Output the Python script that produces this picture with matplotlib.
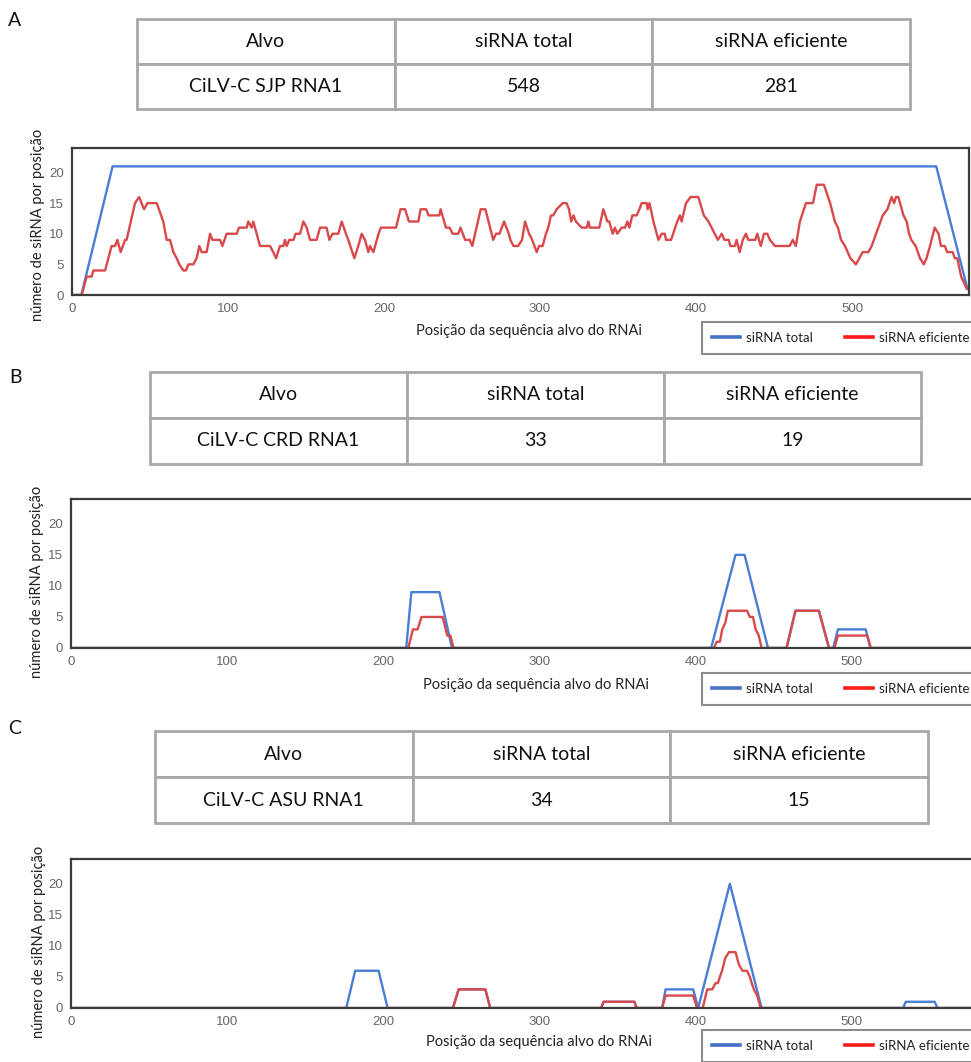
import matplotlib
matplotlib.use("Agg")
import matplotlib.pyplot as plt
from matplotlib.lines import Line2D

W, H = 971, 1062

# textos e valores das tabelas
paineis = ["A", "B", "C"]
cabecalho = ["Alvo", "siRNA total", "siRNA eficiente"]
alvos = ["CiLV-C SJP RNA1", "CiLV-C CRD RNA1", "CiLV-C ASU RNA1"]
n_total = [548, 33, 34]
n_eficiente = [281, 19, 15]
legendas = ["siRNA total", "siRNA eficiente"]
xlabel = "Posição da sequência alvo do RNAi"
ylabel = "número de siRNA por posição"
xticks = [0, 100, 200, 300, 400, 500]
yticks = [0, 5, 10, 15, 20]

# painel A (CiLV-C SJP RNA1)
a_total_x = [0, 6, 26, 554, 574]
a_total_y = [0, 0, 21, 21, 1]
a_efic_x = [0, 6.2, 9.4, 12.6, 13.7, 21.2, 25.4, 27.6, 29.1, 31.2, 34, 35, 40.4, 43, 46.2, 48.3,
            54.3, 58.5, 60.7, 62.8, 65, 67.1, 68.8, 71.4, 73, 74.6, 77.8, 79.9, 81.6, 83.1, 86.3,
            88.5, 90, 94.9, 96.4, 99.1, 105.6, 107, 112, 113, 115.2, 116.2, 118.4, 120.5, 127,
            129, 130.8, 133.3, 135.5, 136.5, 137.6, 139.3, 141.9, 143.4, 146.2, 148.3, 150.4,
            152.6, 156.8, 159, 163.2, 165, 167, 170.7, 172.9, 175.6, 177.1, 181, 183.5, 185.7,
            187.8, 190, 191, 193.2, 196.5, 198, 207.7, 210.6, 213.5, 216, 222, 223.5, 227, 228.5,
            235.5, 236.3, 239.7, 242, 244, 247.6, 249, 252, 255, 256.6, 262, 265, 270, 271.8, 274,
            277, 280, 281, 283, 286, 288.5, 290.4, 293, 295, 297.9, 299.4, 301.7, 303.8, 305.3,
            307, 308.5, 310.7, 314.5, 317, 318.6, 320, 321.5, 323, 326.7, 330, 331, 332, 338,
            340.6, 343.2, 344.4, 346.6, 348, 349.6, 352.3, 354.5, 356, 357.3, 359.2, 362, 363.7,
            365.2, 368.4, 369, 370.2, 372.7, 375.9, 378, 380, 380.8, 384, 388, 389.7, 390.8,
            393.6, 396.6, 401.5, 405, 408, 410, 412, 414, 416.5, 418.2, 421, 422, 425, 426, 428,
            430, 432, 433.5, 438, 439.3, 441.5, 443.6, 445.7, 447.4, 450.6, 460, 462, 464, 466.6,
            470.5, 475, 477.4, 482, 486, 489, 491, 493, 495.5, 499, 502.5, 504.7, 506.8, 510.5,
            512.6, 516.9, 519.7, 522.7, 525.4, 527, 528.2, 529.7, 533, 535, 536.6, 538, 540.8,
            543.6, 546, 547.8, 550, 553, 555.5, 557, 559.5, 561, 564.5, 566, 567.5, 570, 573.6]
a_efic_y = [0, 0, 3, 3, 4, 4, 8, 8, 9, 7, 9, 9, 15, 16, 14, 15,
            15, 12, 9, 9, 7, 6, 5, 4, 4, 5, 5, 6, 8, 7, 7,
            10, 9, 9, 8, 10, 10, 11, 11, 12, 11, 12, 10, 8, 8,
            7, 6, 8, 8, 9, 8, 9, 9, 10, 10, 12, 11,
            9, 9, 11, 11, 9, 10, 10, 12, 10, 9, 6, 8, 10,
            9, 7, 8, 7, 10, 11, 11, 14, 14, 12, 12, 14, 14, 13,
            13, 14, 11, 11, 10, 10, 11, 9, 9, 8, 14, 14, 9, 10, 10,
            12, 10, 9, 8, 8, 9, 12, 10, 9, 7, 8, 8, 10, 11,
            13, 13, 14, 15, 15, 14, 12, 13, 12, 11, 11, 12, 11, 11,
            14, 12, 12, 10, 11, 10, 11, 11, 12, 11, 13, 13, 14,
            15, 15, 14, 15, 12, 9, 10, 10, 9, 9, 12, 13, 12,
            15, 16, 16, 13, 12, 11, 10, 9, 10, 9, 9, 8, 8, 9, 7,
            9, 10, 9, 9, 10, 8, 10, 10, 9, 8, 8, 9, 8, 12,
            15, 15, 18, 18, 15, 12, 11, 9, 8, 6, 5, 6, 7, 7,
            8, 11, 13, 14, 16, 15, 16, 16, 13, 12, 10, 9, 8,
            6, 5, 6, 8, 11, 10, 8, 8, 7, 7, 6, 6, 3, 1]

# painel B (CiLV-C CRD RNA1)
b_total_x = [0, 214.7, 218, 236, 244, 410, 425.6, 431.4, 446.4, 458.3, 464, 479, 485.5,
             488.2, 491.2, 509, 512, 578]
b_total_y = [0, 0, 9, 9, 0, 0, 15, 15, 0, 0, 6, 6, 0, 0, 3, 3, 0, 0]
b_efic_x = [0, 216, 219, 222, 224.5, 238, 241, 243, 245, 411.8, 413.5, 415.6, 417.1, 419,
            420.7, 433, 434.8, 436.8, 438.5, 440.5, 442.3, 458.3, 464, 479, 485.5, 489, 491.2,
            510, 512.3, 578]
b_efic_y = [0, 0, 3, 3, 5, 5, 2, 2, 0, 0, 1, 1, 3, 4,
            6, 6, 5, 5, 3, 2, 0, 0, 6, 6, 0, 0, 2,
            2, 0, 0]

# painel C (CiLV-C ASU RNA1)
c_total_x = [0, 176.3, 182, 197, 202.8, 244.6, 248.3, 265.4, 268.5, 339.5, 341.2, 360.9,
             362.2, 378.6, 380.8, 398.5, 401.7, 422, 442.3, 533, 534.6, 553.2, 554.9, 578]
c_total_y = [0, 0, 6, 6, 0, 0, 3, 3, 0, 0, 1, 1, 0, 0, 3, 3, 0, 20, 0, 0, 1, 1, 0, 0]
c_efic_x = [0, 244.6, 248.3, 265.4, 268.5, 339.5, 341.2, 360.9, 362.2, 378.6, 380.8, 398.5,
            401, 404.6, 407.5, 410.7, 412.8, 414.3, 415.6, 417, 419, 421.4, 425.6, 427.8, 430,
            433, 434.8, 436, 437.4, 439.5, 441.7, 578]
c_efic_y = [0, 0, 3, 3, 0, 0, 1, 1, 0, 0, 2, 2,
            0, 0, 3, 3, 4, 4, 5, 6, 8, 9, 9, 7, 6,
            6, 5, 4, 3, 2, 0, 0]

series = [(a_total_x, a_total_y, a_efic_x, a_efic_y),
          (b_total_x, b_total_y, b_efic_x, b_efic_y),
          (c_total_x, c_total_y, c_efic_x, c_efic_y)]

# posicoes em pixels (esq, topo, dir, base)
layout = [
    dict(letra=(15, 20), tabela=(137, 19, 910, 109), eixo=(72, 148, 969, 295), xmax=575,
         xlab=(529, 331), ylab=(38, 225), leg=(702, 322)),
    dict(letra=(15, 378), tabela=(150, 372, 921, 464), eixo=(71, 499, 975, 648), xmax=579,
         xlab=(536, 685), ylab=(37, 582), leg=(702, 673)),
    dict(letra=(15, 728), tabela=(155, 731, 928, 823), eixo=(71, 859, 975, 1008), xmax=579,
         xlab=(539, 1042), ylab=(39, 942), leg=(702, 1030)),
]

AZUL = "#4a7dd6"
VERMELHO = "#d9494b"


def rect(x0, y0, x1, y1):
    return [x0 / W, 1 - y1 / H, (x1 - x0) / W, (y1 - y0) / H]


fig = plt.figure(figsize=(W / 100, H / 100), dpi=100)
fundo = fig.add_axes([0, 0, 1, 1])
fundo.set_axis_off()

for i, lay in enumerate(layout):
    # letra do painel
    fig.text(lay["letra"][0] / W, 1 - lay["letra"][1] / H, paineis[i], family="Lato",
             fontsize=14, ha="center", va="center", color="#111111")

    # tabela
    linhas = [cabecalho, [alvos[i], str(n_total[i]), str(n_eficiente[i])]]
    tb = fundo.table(cellText=linhas, cellLoc="center", bbox=rect(*lay["tabela"]))
    tb.auto_set_font_size(False)
    for (r, c), cell in tb.get_celld().items():
        cell.set_edgecolor("#a8a8a8")
        cell.set_linewidth(2)
        cell.get_text().set_fontsize(14)
        cell.get_text().set_fontfamily("Lato")
        cell.get_text().set_color("#111111")

    # grafico
    tx, ty, ex, ey = series[i]
    ax = fig.add_axes(rect(*lay["eixo"]))
    ax.plot(tx, ty, color=AZUL, lw=1.7, zorder=2)
    ax.plot(ex, ey, color=VERMELHO, lw=1.7, zorder=3)
    ax.set_xlim(0, lay["xmax"])
    ax.set_ylim(0, 24)
    ax.set_xticks(xticks)
    ax.set_yticks(yticks)
    ax.tick_params(length=0, labelsize=9.5, labelcolor="#666666", pad=6)
    for lab in ax.get_xticklabels() + ax.get_yticklabels():
        lab.set_family("Liberation Sans")
    for sp in ax.spines.values():
        sp.set_color("#3c3c3c")
        sp.set_linewidth(1.6)
        sp.set_zorder(4)

    fig.text(lay["xlab"][0] / W, 1 - lay["xlab"][1] / H, xlabel, family="Lato", fontsize=10.5,
             ha="center", va="center", color="#222222")
    fig.text(lay["ylab"][0] / W, 1 - lay["ylab"][1] / H, ylabel, family="Lato", fontsize=10.5,
             ha="center", va="center", rotation=90, color="#222222")

    # legenda
    handles = [Line2D([], [], color="#4472c4", lw=2.6), Line2D([], [], color="#ff1a1a", lw=2.6)]
    leg = fig.legend(handles, legendas, loc="upper left",
                     bbox_to_anchor=(lay["leg"][0] / W, 1 - lay["leg"][1] / H), ncol=2,
                     frameon=True, fancybox=False, edgecolor="#8c8c8c", framealpha=1,
                     borderaxespad=0, handlelength=2.1, handletextpad=0.45, columnspacing=2.5,
                     borderpad=0.75, prop={"family": "Lato", "size": 9.5})
    leg.get_frame().set_linewidth(1.5)
    for t in leg.get_texts():
        t.set_color("#222222")

fig.savefig("out.png", dpi=100)
